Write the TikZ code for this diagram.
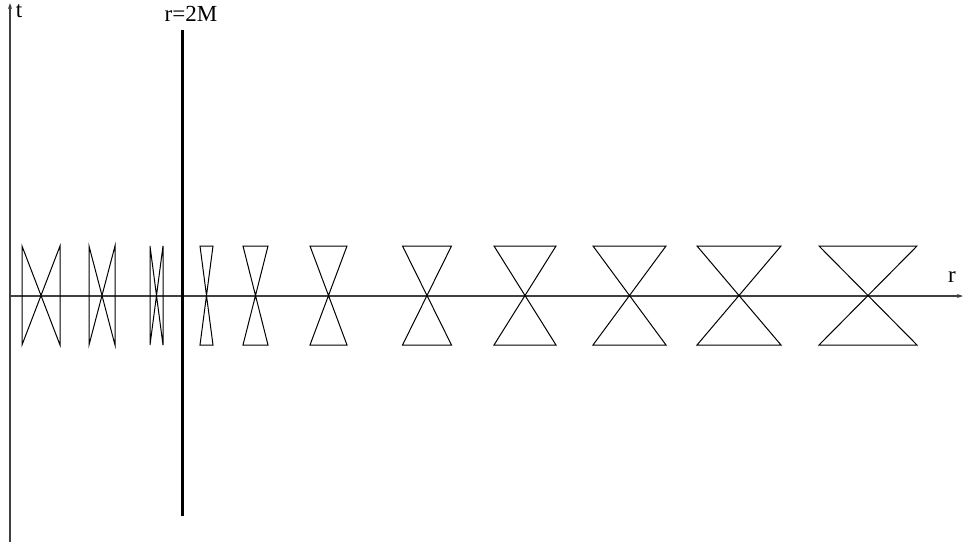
\documentclass[tikz,border=0pt]{standalone}
\usepackage{fontspec}
\setmainfont{Liberation Serif}
\usetikzlibrary{arrows.meta}
\begin{document}
\begin{tikzpicture}[x=1pt,y=-1pt,
  cone/.style={line width=1pt, line join=miter},
  axisline/.style={line width=1.2pt, draw=black!75, -{Stealth[length=6pt,width=4pt]}},
  horizon/.style={line width=3pt},
  lbl/.style={font=\fontsize{23}{27}\selectfont, inner sep=0pt}]
\useasboundingbox[fill=white] (0,0) rectangle (963,547);
% axes
\coordinate (tstart) at (10,542);
\coordinate (tend) at (10,3);
\coordinate (o) at (10,296);
\coordinate (rend) at (963,296);
\draw[axisline] (tstart) -- (tend);
\draw[axisline] (o) -- (rend);
% horizon
\coordinate (h1) at (182,30);
\coordinate (h2) at (182,516);
\draw[horizon] (h1) -- (h2);
% labels
\node[lbl] (tl) at (19,11) {t};
\node[lbl] (hl) at (191,14) {r=2M};
\node[lbl] (rl) at (952,277) {r};
% cones inside r<2M
\foreach \c/\w in {41/19, 102/13, 156.5/6.5}{
  \draw[cone] (\c-\w,246) -- (\c-\w,345) -- (\c+\w,246) -- (\c+\w,345) -- cycle;
}
% cones outside
\foreach \c/\w in {206.5/6.5, 255.5/12.5, 328.5/18.5, 427/24.5, 525/31, 629.5/36.5, 739/42, 868/49}{
  \draw[cone] (\c-\w,246) -- (\c+\w,246) -- (\c-\w,345) -- (\c+\w,345) -- cycle;
}
\end{tikzpicture}
\end{document}
